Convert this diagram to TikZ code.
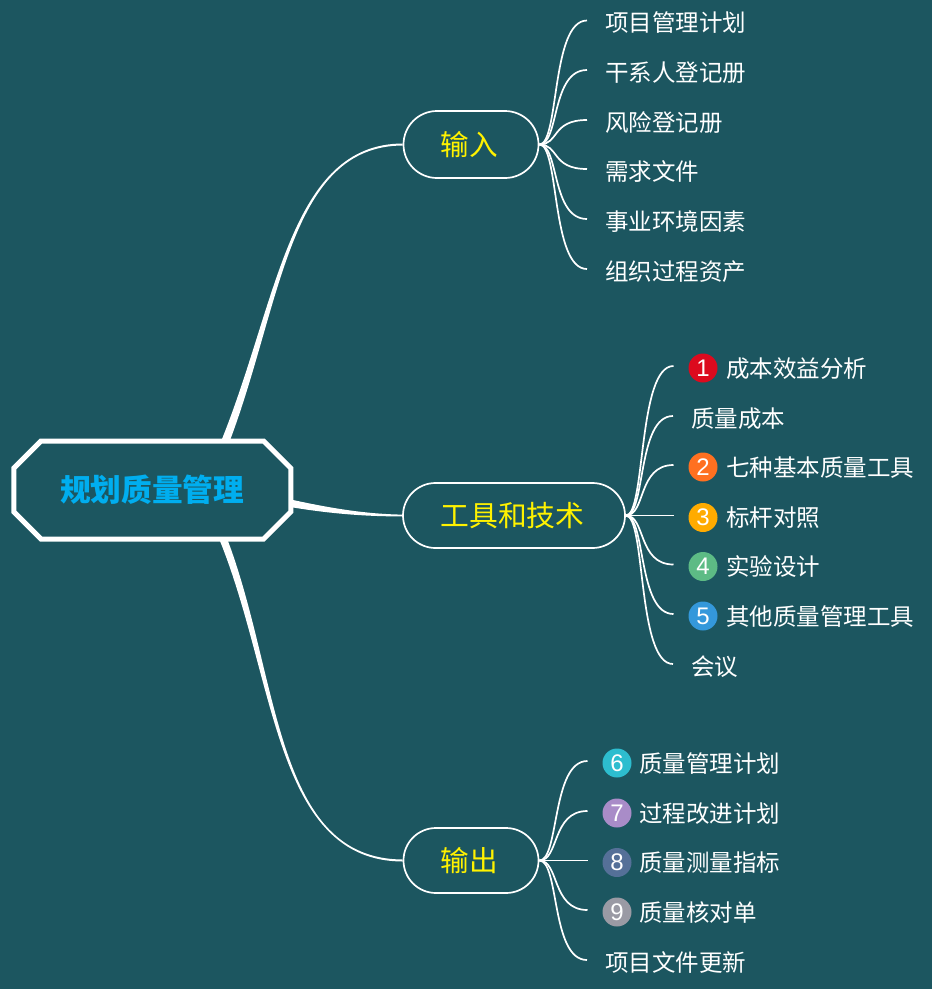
\documentclass[tikz,border=0pt]{standalone}
\usepackage{fontspec}
\setmainfont{Noto Sans CJK SC}
\newfontfamily\digitfont{Liberation Sans}
\usetikzlibrary{shapes.misc}
\definecolor{bgc}{HTML}{1C5660}
\definecolor{rootc}{HTML}{00AEEF}
\definecolor{cone}{HTML}{DC0A1E}
\definecolor{ctwo}{HTML}{FF7020}
\definecolor{cthree}{HTML}{FFAB00}
\definecolor{cfour}{HTML}{5DBB85}
\definecolor{cfive}{HTML}{3498DB}
\definecolor{csix}{HTML}{2DBDCF}
\definecolor{cseven}{HTML}{A98CC8}
\definecolor{ceight}{HTML}{557098}
\definecolor{cnine}{HTML}{9A9AA4}
\tikzset{
  x=1pt,y=-1pt,
  rootbox/.style={chamfered rectangle,chamfered rectangle xsep=18pt,chamfered rectangle ysep=15.5pt,
    draw=white,line width=5pt,fill=bgc,minimum width=277pt,minimum height=98pt,inner sep=0pt,
    text=rootc,font=\fontsize{30.7}{36}\selectfont\bfseries,text height=23.4pt,text depth=0pt},
  branchbox/.style={rounded rectangle,draw=white,line width=1.7pt,fill=bgc,inner sep=0pt,
    minimum height=#1,text=yellow,text height=21pt,text depth=0pt},
  leaftext/.style={anchor=west,inner ysep=0pt,inner xsep=0pt,text=white,
    font=\fontsize{23.5}{28}\selectfont,text height=18pt,text depth=0pt},
  plainleaf/.style={leaftext,inner xsep=18pt},
  badge/.style={circle,fill=#1,minimum size=29pt,inner sep=0pt,outer sep=15pt,text=white,
    font=\digitfont\fontsize{24}{28}\selectfont},
  twig/.style={draw=white,line width=1.7pt},
  trunk/.style={fill=white},
}
\newcommand{\twigto}[2]{\draw[twig] (#1.east) .. controls +(20pt,0) and +(-36pt,0) .. ([yshift=2pt]#2.west);}
\begin{document}
\begin{tikzpicture}
\useasboundingbox[fill=bgc] (0,0) rectangle (932,989);
% root and branches
\node[rootbox] (root) at (152.3,490) {规划质量管理};
\node[branchbox=67pt,minimum width=135pt,font=\fontsize{28.6}{34}\selectfont] (in) at (471,144.5) {输入\kern4pt};
\node[branchbox=65pt,minimum width=222pt,font=\fontsize{28.8}{34}\selectfont] (tool) at (514,515.5) {工具和技术\kern3pt};
\node[branchbox=65pt,minimum width=135pt,font=\fontsize{28.6}{34}\selectfont] (out) at (471,860.5) {输出\kern4pt};
% trunk anchors on the root outline
\coordinate (t1) at (222,439);
\coordinate (t2) at (230.5,439);
\coordinate (m1) at (293,500);
\coordinate (m2) at (293,507.5);
\coordinate (b1) at (220,541);
\coordinate (b2) at (228,541);
\fill[trunk] (t1) .. controls (278,299.5) and (290,144) .. ([yshift=1pt]in.west)
   -- ([yshift=-1pt]in.west) .. controls (290,146) and (282,301) .. (t2) -- cycle;
\fill[trunk] (m1) .. controls (330,508) and (365,514) .. ([yshift=.9pt]tool.west)
   -- ([yshift=-.9pt]tool.west) .. controls (365,516.5) and (330,513.5) .. (m2) -- cycle;
\fill[trunk] (b1) .. controls (276,680) and (275,861) .. ([yshift=-1pt]out.west)
   -- ([yshift=1pt]out.west) .. controls (275,859) and (280,680) .. (b2) -- cycle;
% input leaves
\node[plainleaf] (a1) at (587,22.5) {项目管理计划};
\node[plainleaf] (a2) at (587,72) {干系人登记册};
\node[plainleaf] (a3) at (587,122) {风险登记册};
\node[plainleaf] (a4) at (587,171) {需求文件};
\node[plainleaf] (a5) at (587,221) {事业环境因素};
\node[plainleaf] (a6) at (587,271) {组织过程资产};
\foreach \n in {a1,a2,a3,a4,a5,a6}{\twigto{in}{\n}}
% tool leaves
\node[badge=cone] (b1n) at (703,368) {1};
\node[leaftext] at (726,368) {成本效益分析};
\node[plainleaf] (b2n) at (673,418) {质量成本};
\node[badge=ctwo] (b3n) at (703,467) {2};
\node[leaftext] at (726,467) {七种基本质量工具};
\node[badge=cthree] (b4n) at (703,517.5) {3};
\node[leaftext] at (726,517) {标杆对照};
\node[badge=cfour] (b5n) at (703,566.5) {4};
\node[leaftext] at (726,566.5) {实验设计};
\node[badge=cfive] (b6n) at (703,616) {5};
\node[leaftext] at (726,616) {其他质量管理工具};
\node[plainleaf] (b7n) at (673,666) {会议};
\foreach \n in {b1n,b2n,b3n,b4n,b5n,b6n,b7n}{\twigto{tool}{\n}}
% output leaves
\node[badge=csix] (c1n) at (617,763) {6};
\node[leaftext] at (639,763) {质量管理计划};
\node[badge=cseven] (c2n) at (617,813) {7};
\node[leaftext] at (639,813) {过程改进计划};
\node[badge=ceight] (c3n) at (617,862.5) {8};
\node[leaftext] at (639,862) {质量测量指标};
\node[badge=cnine] (c4n) at (617,912) {9};
\node[leaftext] at (639,912) {质量核对单};
\node[plainleaf] (c5n) at (587,962) {项目文件更新};
\foreach \n in {c1n,c2n,c3n,c4n,c5n}{\twigto{out}{\n}}
\end{tikzpicture}
\end{document}
